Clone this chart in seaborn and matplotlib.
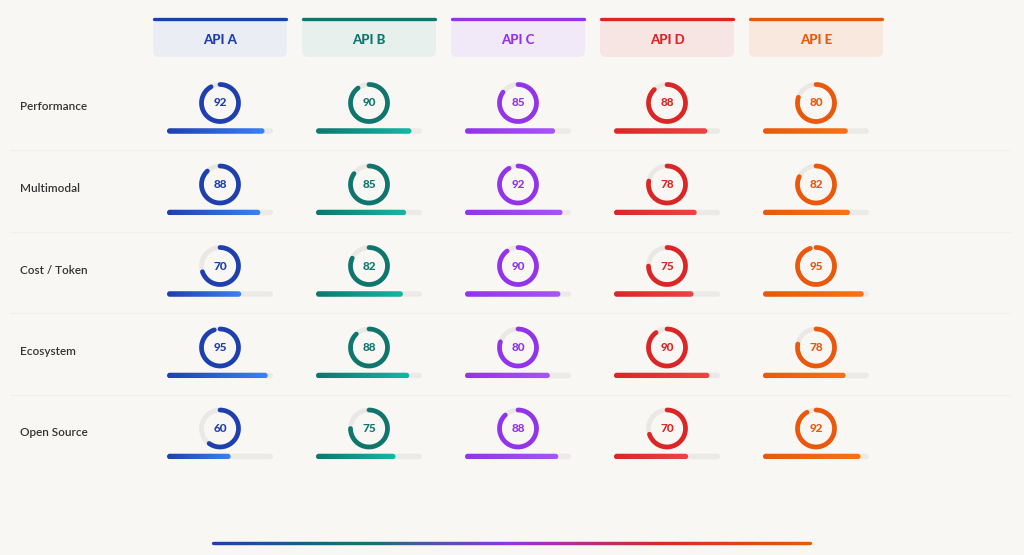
import numpy as np
import seaborn as sns
import matplotlib.pyplot as plt
from matplotlib.patches import FancyBboxPatch
from matplotlib.collections import LineCollection

# data
apis = ["API A", "API B", "API C", "API D", "API E"]
metrics = ["Performance", "Multimodal", "Cost / Token", "Ecosystem", "Open Source"]
scores = {
    "API A": [92, 88, 70, 95, 60],
    "API B": [90, 85, 82, 88, 75],
    "API C": [85, 92, 90, 80, 88],
    "API D": [88, 78, 75, 90, 70],
    "API E": [80, 82, 95, 78, 92],
}
dark = ["#1e40af", "#0f766e", "#9333ea", "#dc2626", "#ea580c"]
light = ["#3b82f6", "#14b8a6", "#a855f7", "#ef4444", "#f97316"]
tints = ["#ebedf5", "#e7f0ec", "#f1e9f8", "#f7e5e4", "#f8e8de"]

sns.set_theme(style="white")
plt.rcParams["font.family"] = ["Lato", "DejaVu Sans"]

W, H = 1024, 555
bg = "#f8f7f3"
fig = plt.figure(figsize=(W / 100, H / 100), dpi=100, facecolor=bg)
ax = fig.add_axes([0, 0, 1, 1])
ax.set_facecolor(bg)
ax.set_xlim(0, W)
ax.set_ylim(0, H)
ax.axis("off")

def Y(y):
    return H - y

col_x = [220, 369, 518, 667, 816]
row_y = [103, 184.5, 266, 347.5, 428.5]

# header boxes
for j, name in enumerate(apis):
    cx = col_x[j]
    box = FancyBboxPatch((cx - 67, Y(57)), 134, 38,
                         boxstyle="round,pad=0,rounding_size=6",
                         fc=tints[j], ec="none", zorder=2)
    ax.add_patch(box)
    ax.plot([cx - 66, cx + 66], [Y(18.5), Y(18.5)], color=dark[j], lw=2.4,
            solid_capstyle="round", zorder=3)
    ax.text(cx, Y(40), name, ha="center", va="center", fontsize=9.5,
            fontweight="black", color=dark[j], zorder=4)

# row labels and separators
for i, m in enumerate(metrics):
    ax.text(20, Y(row_y[i] + 4), m, ha="left", va="center", fontsize=8.5,
            fontweight="semibold", color="#333333")
    if i < len(metrics) - 1:
        ys = Y(row_y[i] + 47)
        ax.plot([10, 1010], [ys, ys], color="#f1f0ec", lw=0.8, zorder=1)

# rings and bars
r = 18.5
t_full = np.linspace(0, 2 * np.pi, 200)
for j, name in enumerate(apis):
    grad = sns.blend_palette([dark[j], light[j]], 256)
    for i, v in enumerate(scores[name]):
        cx, cy = col_x[j], Y(row_y[i])
        ax.plot(cx + r * np.cos(t_full), cy + r * np.sin(t_full),
                color="#e9e8e5", lw=3.4, zorder=2)
        t = np.pi / 2 - np.linspace(0, 2 * np.pi * v / 100, 200)
        ax.plot(cx + r * np.cos(t), cy + r * np.sin(t), color=dark[j],
                lw=3.4, solid_capstyle="round", zorder=3)
        ax.text(cx, cy, str(v), ha="center", va="center", fontsize=8.5,
                fontweight="black", color=dark[j], zorder=4)

        # bar
        by = Y(row_y[i] + 28)
        x0, bw, bh = cx - 53, 106, 5.5
        track = FancyBboxPatch((x0, by - bh / 2), bw, bh,
                               boxstyle="round,pad=0,rounding_size=2.75",
                               fc="#eceae6", ec="none", zorder=2)
        ax.add_patch(track)
        fill_w = bw * v / 100
        clip = FancyBboxPatch((x0, by - bh / 2), fill_w, bh,
                              boxstyle="round,pad=0,rounding_size=2.75",
                              fc="none", ec="none", zorder=3)
        ax.add_patch(clip)
        img = np.array(grad)[None, :, :]
        im = ax.imshow(img, extent=(x0, x0 + fill_w, by - bh / 2, by + bh / 2),
                       aspect="auto", zorder=3, interpolation="bilinear")
        im.set_clip_path(clip)

# bottom gradient line
n = 300
xs = np.linspace(213, 810, n)
pts = np.column_stack([xs, np.full(n, Y(543))]).reshape(-1, 1, 2)
segs = np.concatenate([pts[:-1], pts[1:]], axis=1)
line_cols = sns.blend_palette(dark, n - 1)
ax.add_collection(LineCollection(segs, colors=line_cols, linewidths=2.4,
                                 capstyle="round", zorder=3))

ax.set_xlim(0, W)
ax.set_ylim(0, H)
fig.savefig("out.png", dpi=100, facecolor=bg)
